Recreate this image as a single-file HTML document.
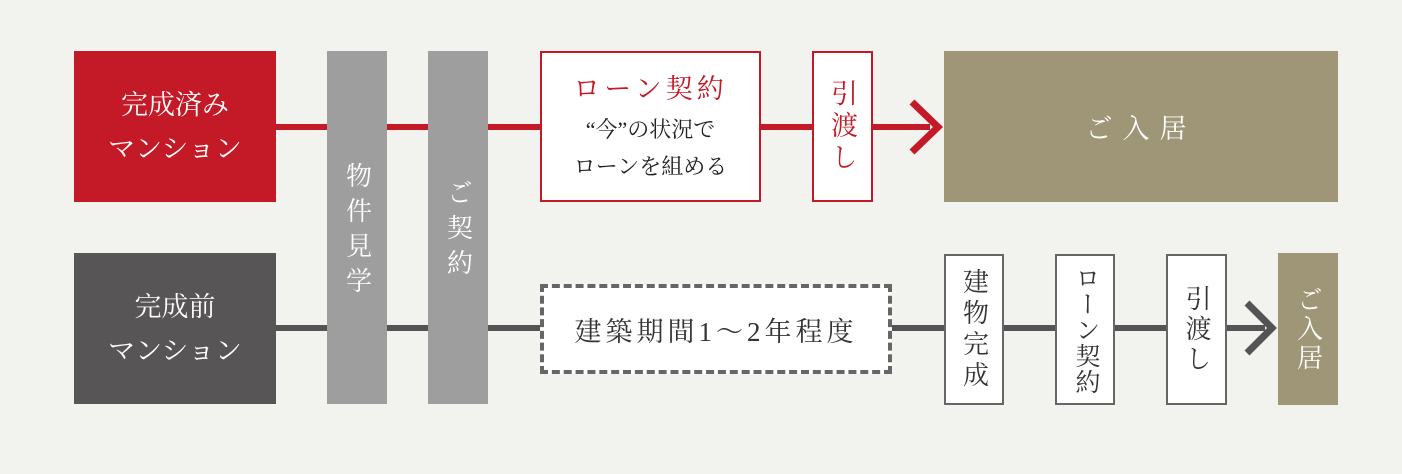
<!DOCTYPE html>
<html><head><meta charset="utf-8"><style>
body{margin:0;width:1402px;height:474px;background:#f2f2ee;position:relative;overflow:hidden;font-family:"Liberation Serif","Noto Serif CJK SC",serif;}
div{position:absolute;box-sizing:border-box;}
.c{display:flex;align-items:center;justify-content:center;text-align:center;}
.v{writing-mode:vertical-rl;letter-spacing:6px;}
</style></head><body>
<div style="left:270px;top:124px;width:660px;height:6px;background:#c41a27"></div>
<div style="left:270px;top:325px;width:995px;height:6px;background:#555454"></div>
<svg style="position:absolute;left:0;top:0" width="1402" height="474">
<polyline points="912,102 938,127 912,152" fill="none" stroke="#c41a27" stroke-width="7"/>
<polyline points="1247,303 1272,328 1247,353" fill="none" stroke="#555454" stroke-width="7"/>
</svg>
<div class="c" style="left:74px;top:51px;width:202px;height:151px;background:#c41a27;color:#fff;font-size:27px;line-height:44px">完成済み<br>マンション</div>
<div class="c" style="left:74px;top:253px;width:202px;height:151px;background:#575555;color:#fff;font-size:27px;line-height:44px">完成前<br>マンション</div>
<div class="c v" style="left:327px;top:51px;width:60px;height:353px;background:#9e9e9e;color:#fff;font-size:26px;letter-spacing:9px;padding-top:8px">物件見学</div>
<div class="c v" style="left:428px;top:51px;width:60px;height:353px;background:#9e9e9e;color:#fff;font-size:26px;letter-spacing:9px;padding-top:8px">ご契約</div>
<div class="c" style="left:540px;top:51px;width:221px;height:151px;background:#fff;border:2px solid #c41a27;flex-direction:column">
<div style="position:static;color:#c41a27;font-size:27px;letter-spacing:4px;line-height:40px;margin-bottom:2px">ローン契約</div>
<div style="position:static;color:#222;font-size:22px;line-height:37px">“今”の状況で<br>ローンを組める</div></div>
<div class="c v" style="left:812px;top:51px;width:61px;height:151px;background:#fff;border:2px solid #c41a27;color:#c41a27;font-size:27px;letter-spacing:5px">引渡し</div>
<div class="c" style="left:944px;top:51px;width:394px;height:151px;background:#9e9677;color:#fff;font-size:27px;letter-spacing:10px">ご入居</div>
<div class="c" style="left:540px;top:284px;width:352px;height:90px;background:#fff;border:4px dashed #666;color:#333;font-size:27px;letter-spacing:4px">建築期間1～2年程度</div>
<div class="c v" style="left:944px;top:254px;width:60px;height:151px;background:#fff;border:2px solid #666;color:#333;font-size:26px;letter-spacing:5px">建物完成</div>
<div class="c v" style="left:1055px;top:254px;width:60px;height:151px;background:#fff;border:2px solid #666;color:#333;font-size:25px;letter-spacing:1px">ローン契約</div>
<div class="c v" style="left:1166px;top:254px;width:61px;height:151px;background:#fff;border:2px solid #666;color:#333;font-size:26px;letter-spacing:4px">引渡し</div>
<div class="c v" style="left:1278px;top:253px;width:60px;height:152px;background:#9e9677;color:#fff;font-size:26px;letter-spacing:3px">ご入居</div>
</body></html>
